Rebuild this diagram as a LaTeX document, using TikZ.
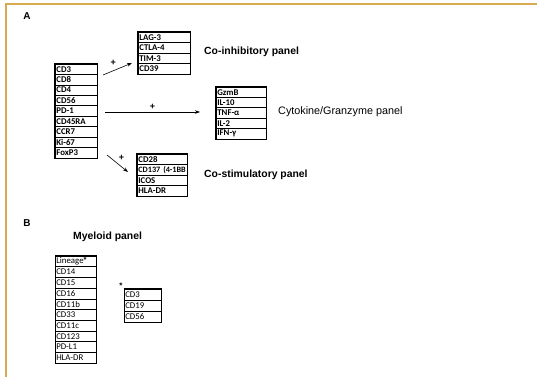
\documentclass[tikz,border=0pt]{standalone}
\usepackage{fontspec}
\setmainfont{Liberation Sans}
\newfontfamily\markerfont{Carlito}
\usetikzlibrary{arrows.meta}
\definecolor{framegold}{RGB}{214,170,80}

\begin{document}
\begin{tikzpicture}[x=1pt,y=-1pt,>={Stealth[length=5pt,width=3.5pt]},
  cellA/.style={draw,line width=0.7pt,anchor=west,inner xsep=1pt,inner ysep=0pt,align=left,font=\markerfont\bfseries\fontsize{8.8}{9}\selectfont},
  cellB/.style={draw,line width=0.5pt,anchor=west,inner xsep=1pt,inner ysep=0pt,align=left,font=\markerfont\fontsize{8.8}{9}\selectfont},
  outerA/.style={line width=1.3pt},
  outerB/.style={line width=0.9pt},
  panel label/.style={anchor=west,inner sep=0pt,font=\bfseries\fontsize{10.4}{12}\selectfont},
  plus/.style={inner sep=1pt,font=\bfseries\fontsize{9}{9}\selectfont},
  letter/.style={inner sep=0pt,font=\bfseries\fontsize{10}{12}\selectfont}]
\useasboundingbox (0,0) rectangle (537,377);
\draw[framegold,line width=2pt] (6,377) -- (6,4) -- (537,4);

% panel A
\node[letter] (A) at (27,16) {A};
\foreach \m [count=\i] in {CD3,CD8,CD4,CD56,PD-1,CD45RA,CCR7,Ki-67,FoxP3}
  \node[cellA,text width=40pt,minimum height=10.45pt] (t\i) at (55,64+\i*10.45-5.225) {\m};
\draw[outerA] (t1.north west) rectangle (t9.south east);

\foreach \m [count=\i] in {LAG-3,CTLA-4,TIM-3,CD39}
  \node[cellA,text width=50pt,minimum height=10.5pt] (inh\i) at (138,32+\i*10.5-5.25) {\m};
\draw[outerA] (inh1.north west) rectangle (inh4.south east);

\foreach \m [count=\i] in {GzmB,IL-10,TNF-α,IL-2,IFN-γ}
  \node[cellA,text width=48pt,minimum height=10.4pt] (cyt\i) at (216,87+\i*10.4-5.2) {\m};
\draw[outerA] (cyt1.north west) rectangle (cyt5.south east);

\foreach \m [count=\i] in {CD28,\makebox[0pt][l]{\fontsize{8.2}{9}\selectfont CD137 (4-1BB},ICOS,HLA-DR}
  \node[cellA,text width=48pt,minimum height=10.5pt] (cos\i) at (137,154+\i*10.5-5.25) {\m};
\draw[outerA] (cos1.north west) rectangle (cos4.south east);

\node[panel label] (inhlabel) at (204,52) {Co-inhibitory panel};
\node[panel label,font=\fontsize{10.8}{12}\selectfont] (cytlabel) at (278,112) {Cytokine/Granzyme panel};
\node[panel label] (coslabel) at (204,175) {Co-stimulatory panel};

\coordinate (inhstart) at (103,75);
\coordinate (inhend) at (132,63);
\coordinate (cytstart) at (105,112);
\coordinate (cytend) at (200,112);
\coordinate (cosstart) at (107,155);
\coordinate (cosend) at (128,172);
\draw[->,line width=0.6pt] (inhstart) -- (inhend) node[plus,pos=0.35,above=4pt] {+};
\draw[->,line width=0.6pt] (cytstart) -- (cytend) node[plus,midway,above=1pt] {+};
\draw[->,line width=0.6pt] (cosstart) -- (cosend) node[plus,pos=0.45,above right=1pt] {+};

% panel B
\node[letter] (B) at (27,223) {B};
\node[panel label] (myelabel) at (73,237) {Myeloid panel};
\foreach \m [count=\i] in {Lineage\raisebox{1pt}{\rmfamily\bfseries\fontsize{7.5}{8}\selectfont *},CD14,CD15,CD16,CD11b,CD33,CD11c,CD123,PD-L1,HLA-DR}
  \node[cellB,text width=39pt,minimum height=10.7pt] (my\i) at (55,256+\i*10.7-5.35) {\m};
\draw[outerB] (my1.north west) rectangle (my10.south east);

\foreach \m [count=\i] in {CD3,CD19,CD56}
  \node[cellB,text width=35pt,minimum height=11pt] (lin\i) at (124,289+\i*11-5.5) {\m};
\draw[outerB] (lin1.north west) rectangle (lin3.south east);
\node[inner sep=0pt,font=\bfseries\fontsize{8}{8}\selectfont] (linstar) at (121,286) {*};
\end{tikzpicture}
\end{document}
